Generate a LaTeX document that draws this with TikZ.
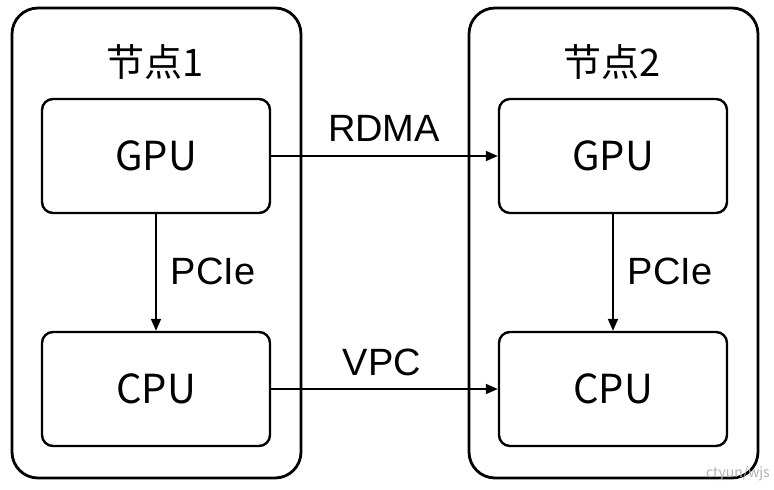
\documentclass[tikz,border=0pt]{standalone}
\usepackage{fontspec}
\setmainfont{Noto Sans CJK SC}
\newfontfamily\lblfont{Liberation Sans}
\usetikzlibrary{arrows.meta}
\begin{document}
\begin{tikzpicture}[x=1pt,y=-1pt,
  outerbox/.style={draw=black,line width=2.8pt,rounded corners=26pt},
  innerbox/.style={draw=black,line width=2.4pt,rounded corners=11pt,minimum width=228pt,minimum height=114pt,inner sep=0pt,font=\fontsize{40}{44}\selectfont},
  title/.style={font=\fontsize{38}{42}\selectfont,inner sep=0pt},
  lbl/.style={font=\lblfont\fontsize{38}{44}\selectfont,inner sep=0pt},
  conn/.style={draw=black,line width=1.8pt,-{Triangle[length=12pt,width=10pt]}}]
\useasboundingbox (0,0) rectangle (774,490);
\fill[white] (0,0) rectangle (774,490);
\draw[outerbox] (12,8) rectangle (301,478);
\draw[outerbox] (469,8) rectangle (758,478);
\node[title] (t1) at (155,62) {节点1};
\node[title] (t2) at (612,62) {节点2};
\node[innerbox] (g1) at (156,156) {GPU};
\node[innerbox] (c1) at (156,389) {CPU};
\node[innerbox] (g2) at (613,156) {GPU};
\node[innerbox] (c2) at (613,389) {CPU};
\draw[conn] (g1) -- (g2);
\draw[conn] (c1) -- (c2);
\draw[conn] (g1) -- (c1);
\draw[conn] (g2) -- (c2);
\node[lbl] (l1) at (384,128) {RDMA};
\node[lbl] (l2) at (382,362) {VPC};
\node[lbl] (l3) at (213,271) {PCIe};
\node[lbl] (l4) at (670,271) {PCIe};
\node[font=\fontsize{14}{16}\selectfont,text=gray!60,inner sep=0pt] (wm) at (738,474) {ctyun/wjs};
\end{tikzpicture}
\end{document}
